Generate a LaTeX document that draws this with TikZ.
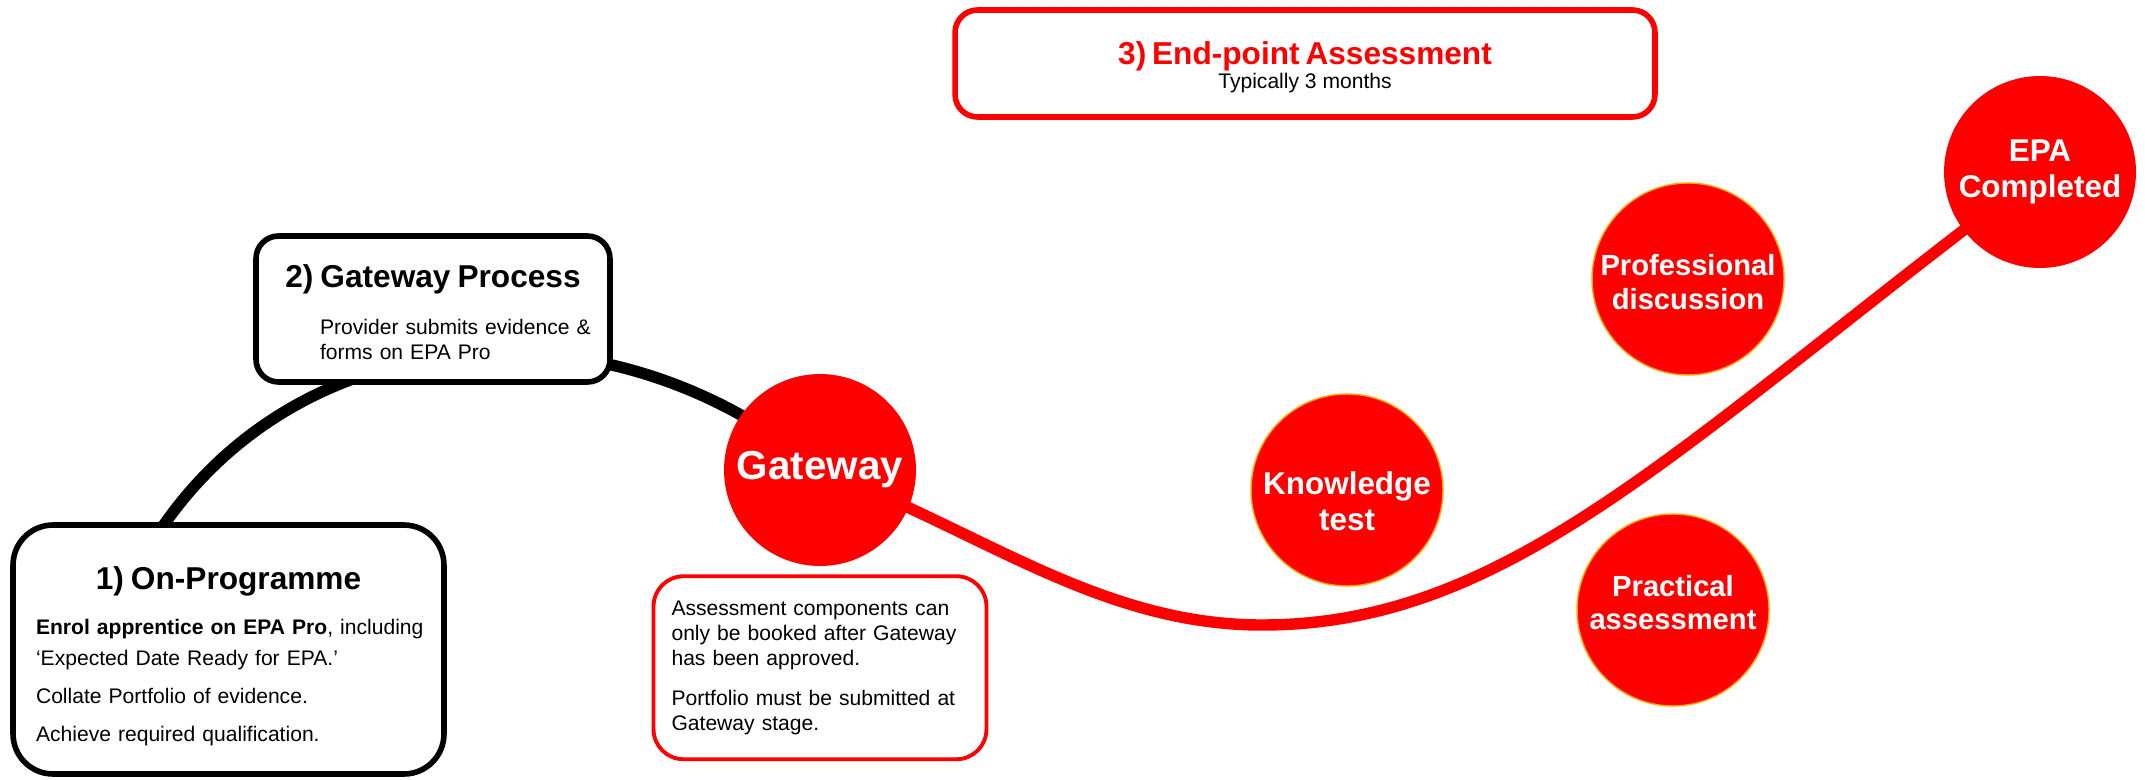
\documentclass[tikz,border=0pt]{standalone}
\usepackage{fontspec}
\setsansfont{Liberation Sans}
\usetikzlibrary{positioning, backgrounds}

\definecolor{epared}{HTML}{FF0000}
\definecolor{epaorange}{HTML}{FFA500}

\begin{document}
\begin{tikzpicture}[
  x=0.02cm, y=-0.02cm,
  font=\sffamily,
  stage/.style={draw=black, line width=3.2pt, fill=white, align=left,
                font=\sffamily\fontsize{12}{17.4}\selectfont},
  epabox/.style={draw=epared, line width=3.2pt, fill=white, rounded corners=0.45cm,
                 minimum width=14cm, minimum height=2.14cm, text width=13cm, align=center},
  note/.style={draw=epared, line width=2.2pt, fill=white, rounded corners=0.6cm,
               minimum width=6.66cm, minimum height=3.66cm, text width=5.94cm, align=left,
               font=\sffamily\fontsize{12}{14.4}\selectfont},
  milestone/.style={circle, fill=epared, text=white, minimum size=3.84cm, inner sep=0pt,
                    align=center, font=\sffamily\bfseries\fontsize{17.9}{20.6}\selectfont},
  task/.style={milestone, draw=epaorange, line width=0.8pt},
  track/.style={line width=6.5pt},
  redtrack/.style={track, draw=epared},
]
\useasboundingbox (0,0) rectangle (2145,780);

\node[stage, minimum width=8.62cm, minimum height=4.98cm, rounded corners=0.8cm,
      text width=8.2cm] (onprog) at (228.5,649.5)
  {{\centering\fontsize{18}{22}\selectfont\bfseries\rule{0pt}{20.6pt}1) On-Programme\par}
   \vspace{4pt}\leftskip=0.25cm\parskip=4.3pt
   \textbf{Enrol apprentice on EPA Pro}, including\\
   ‘Expected Date Ready for EPA.’\par
   Collate Portfolio of evidence.\par
   Achieve required qualification.\par};

\node[stage, minimum width=7.08cm, minimum height=2.92cm, rounded corners=0.45cm,
      text width=6.6cm, font=\sffamily\fontsize{12}{14.2}\selectfont] (gwproc) at (433,309)
  {{\centering\fontsize{18}{22}\selectfont\bfseries\rule{0pt}{17pt}2) Gateway Process\par}
   \vspace{12.4pt}\leftskip=1.04cm
   Provider submits evidence \&\\
   forms on EPA Pro\par};

\node[milestone, font=\sffamily\bfseries\fontsize{23}{27}\selectfont] (gateway) at (820,470) {Gateway};
\node[note, below=0.16cm of gateway] (gwnote)
  {\parskip=7.9pt
   Assessment components can\\
   only be booked after Gateway\\
   has been approved.\par
   Portfolio must be submitted at\\
   Gateway stage.\par};

\node[epabox] (epa) at (1305,63.5)
  {{\fontsize{18}{22}\selectfont\bfseries\color{epared}\rule{0pt}{17.7pt}3) End-point Assessment\par}
   {\fontsize{12}{13.6}\selectfont Typically 3 months\par}};

\node[task] (know) at (1347,490) {\rule{0pt}{25.5pt}Knowledge\\test};
\node[task, font=\sffamily\bfseries\fontsize{16.6}{19.1}\selectfont] (prof) at (1688,279)
  {\rule{0pt}{15.5pt}Professional\\discussion};
\node[task, font=\sffamily\bfseries\fontsize{16.6}{19.1}\selectfont] (prac) at (1673,610)
  {Practical\\assessment\rule[-8.6pt]{0pt}{8.6pt}};
\node[milestone] (done) at (2040,172) {EPA\\Completed};

\coordinate (dip) at (1262,625);

\begin{scope}[on background layer]
  \draw[track] ([yshift=-4pt]onprog.118) .. controls (310,310) and (620,300) .. (gateway.center);
  \draw[redtrack] (gateway.center) .. controls (980,530) and (1100,625) .. (dip)
    .. controls (1512,625) and (1680,442) .. (done.center);
\end{scope}

\end{tikzpicture}
\end{document}
